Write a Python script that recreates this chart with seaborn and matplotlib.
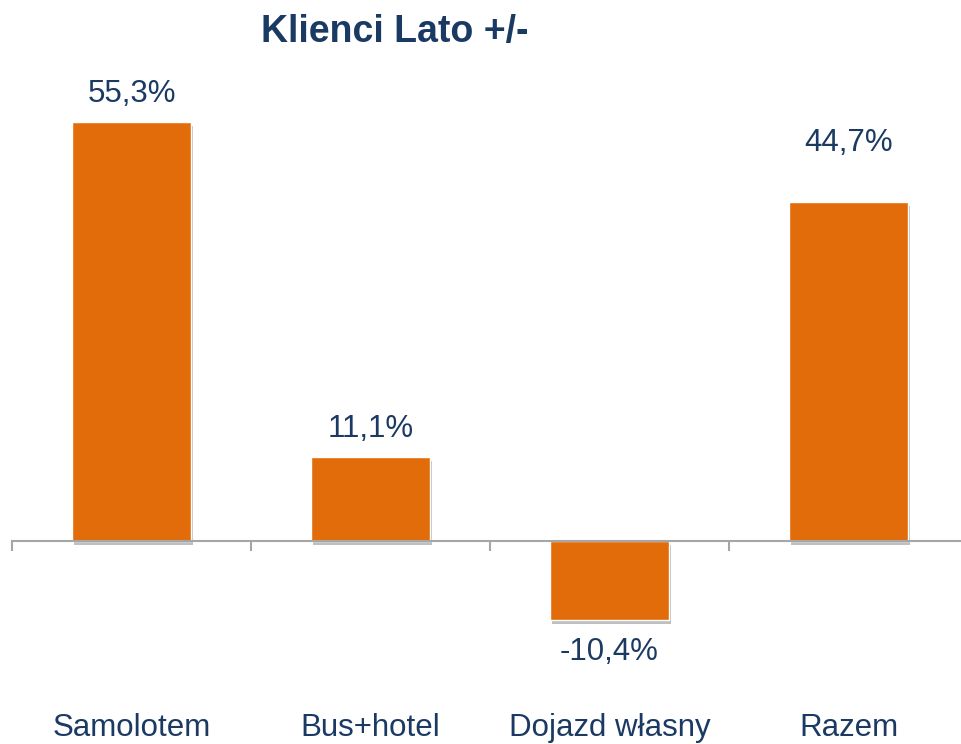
import numpy as np
import pandas as pd
import seaborn as sns
import matplotlib.pyplot as plt
import matplotlib.patheffects as pe

# Klienci Lato +/- : zmiana r/r wg sposobu dojazdu
categories = ['Samolotem', 'Bus+hotel', 'Dojazd własny', 'Razem']
values = [55.3, 11.1, -10.4, 44.7]
value_labels = ['55,3%', '11,1%', '-10,4%', '44,7%']

bar_color = '#E36C0A'
text_color = '#1B3A63'
axis_color = '#A6A6A6'

sns.set_style('white')
plt.rcParams['font.family'] = ['Liberation Sans', 'DejaVu Sans']

df = pd.DataFrame({'kategoria': categories, 'zmiana': values})

fig = plt.figure(figsize=(9.62, 7.44), dpi=100)
ax = fig.add_axes([12 / 962, 0, 956 / 962, 1])

sns.barplot(data=df, x='kategoria', y='zmiana', color=bar_color,
            width=0.5, saturation=1, ax=ax)

# drop shadow under the bars
for patch in ax.patches:
    patch.set_path_effects([
        pe.SimplePatchShadow(offset=(1.5, -3), shadow_rgbFace='#808080', alpha=0.5),
        pe.Normal(),
    ])

ax.set_xlim(-0.5, 3.5)
ax.set_ylim(-26.8, 71.4)

# value labels
for i, (v, lab) in enumerate(zip(values, value_labels)):
    off = 20 if v >= 0 else -23
    if categories[i] == 'Razem':
        off = 43
    ax.annotate(lab, (i, v), xytext=(0, off), textcoords='offset points',
                ha='center', va='center', fontsize=22.5, color=text_color)

# axis at zero with category separators
for s in ['left', 'right', 'top']:
    ax.spines[s].set_visible(False)
ax.spines['bottom'].set_position(('data', 0))
ax.spines['bottom'].set_color(axis_color)
ax.spines['bottom'].set_linewidth(1.5)
ax.set_yticks([])
ax.set_xticks(np.arange(-0.5, 4, 1), minor=True)
ax.tick_params(axis='x', which='minor', bottom=True, direction='out', length=7,
               width=1.5, color=axis_color)
ax.tick_params(axis='x', which='major', bottom=True, length=0, pad=124,
               labelsize=22.5, labelcolor=text_color)
ax.set_xlabel('')
ax.set_ylabel('')

fig.text(395 / 962, 1 - 32 / 744, 'Klienci Lato +/-', ha='center', va='center',
         fontsize=27, fontweight='bold', color=text_color)

fig.savefig('out.png', dpi=100)
